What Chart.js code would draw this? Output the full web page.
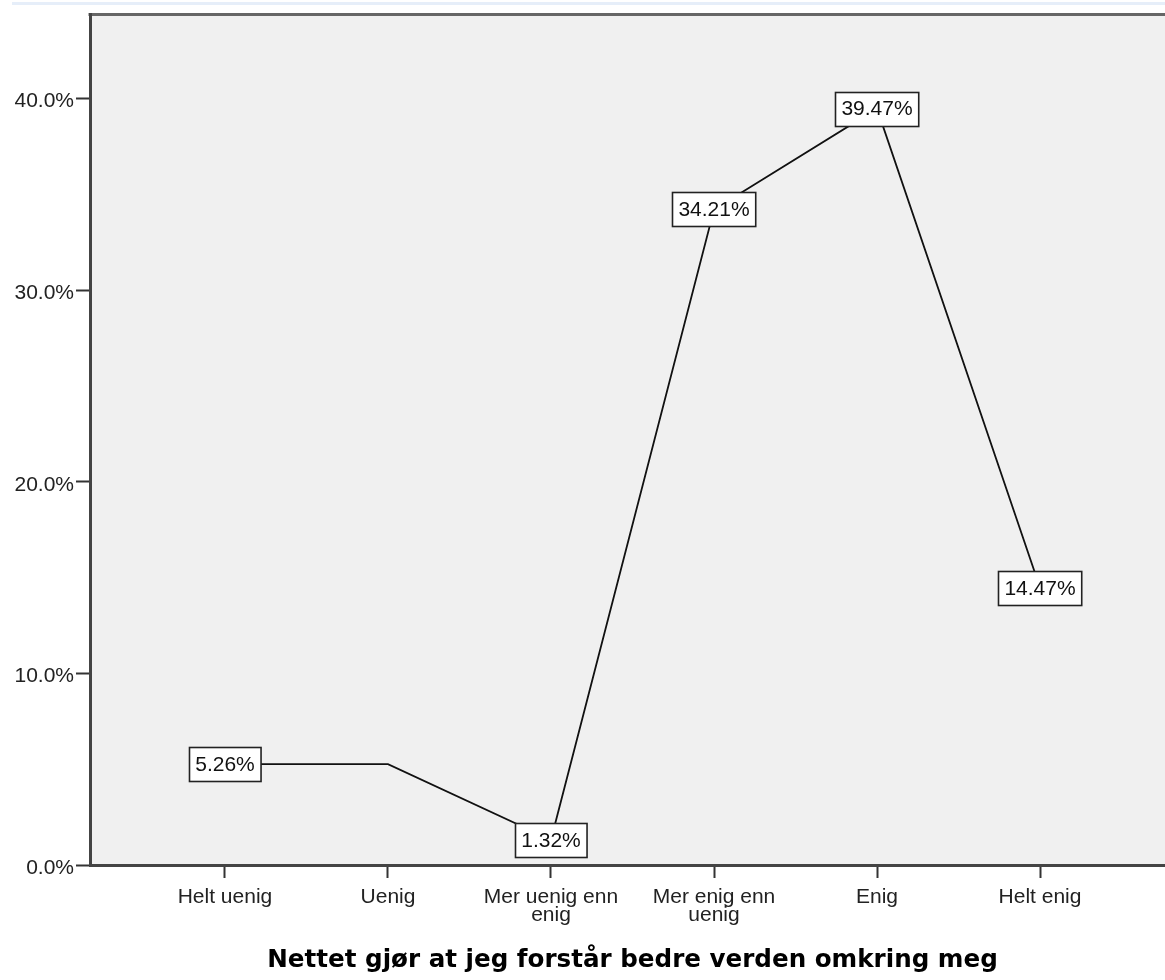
<!DOCTYPE html>
<html>
<head>
<meta charset="utf-8">
<script src="https://cdn.jsdelivr.net/npm/chart.js@4.4.1/dist/chart.umd.min.js"></script>
<style>
  html, body { margin: 0; padding: 0; background: #ffffff; overflow: hidden; }
  #wrap { width: 1180px; height: 980px; }
</style>
</head>
<body>
<div id="wrap"><canvas id="c" width="1180" height="980"></canvas></div>
<script>
// ---- data ----
const categories = [
  "Helt uenig",
  "Uenig",
  ["Mer uenig enn", "enig"],
  ["Mer enig enn", "uenig"],
  "Enig",
  "Helt enig"
];
const percentValues = [5.26, 5.26, 1.32, 34.21, 39.47, 14.47];
const labelShown = [true, false, true, true, true, true];
const yTickValues = [0, 10, 20, 30, 40];
const axisTitle = "Nettet gjør at jeg forstår bedre verden omkring meg";

const points = percentValues.map((v, i) => ({ x: i, y: v }));

const plotBackground = {
  id: 'plotBackground',
  beforeDraw(chart) {
    const { ctx, chartArea: a } = chart;
    ctx.save();
    ctx.fillStyle = '#e6eef9';
    ctx.fillRect(12, 2, chart.width - 12, 3);
    ctx.fillStyle = '#f0f0f0';
    ctx.fillRect(a.left, a.top, a.right - a.left, a.bottom - a.top);
    ctx.strokeStyle = '#666666';
    ctx.lineWidth = 3;
    ctx.beginPath();
    ctx.moveTo(a.left - 1.5, a.top);
    ctx.lineTo(a.right, a.top);
    ctx.stroke();
    ctx.restore();
  }
};

const boxedLabels = {
  id: 'boxedLabels',
  afterDatasetsDraw(chart) {
    const { ctx } = chart;
    const meta = chart.getDatasetMeta(0);
    ctx.save();
    ctx.font = '21px "Liberation Sans", Arial, sans-serif';
    ctx.textAlign = 'center';
    ctx.textBaseline = 'middle';
    meta.data.forEach((el, i) => {
      if (!labelShown[i]) return;
      const txt = percentValues[i].toFixed(2) + '%';
      const w = ctx.measureText(txt).width + 12;
      const h = 34;
      const x = Math.round(el.x - w / 2) + 0.5;
      const y = Math.round(el.y - h / 2) + 0.5;
      ctx.fillStyle = '#ffffff';
      ctx.fillRect(x, y, w, h);
      ctx.strokeStyle = '#222222';
      ctx.lineWidth = 1.6;
      ctx.strokeRect(x, y, w, h);
      ctx.fillStyle = '#111111';
      ctx.fillText(txt, el.x, el.y + 1);
    });
    ctx.restore();
  }
};

new Chart(document.getElementById('c'), {
  type: 'line',
  data: {
    datasets: [{
      data: points,
      borderColor: '#111111',
      borderWidth: 1.8,
      pointRadius: 0,
      pointHoverRadius: 0,
      tension: 0,
      fill: false
    }]
  },
  options: {
    responsive: false,
    animation: false,
    layout: { padding: { top: 14, left: 0, right: 5, bottom: 0 } },
    plugins: {
      legend: { display: false },
      tooltip: { enabled: false },
      title: { display: false }
    },
    scales: {
      x: {
        type: 'linear',
        min: -0.828,
        max: 5.828,
        afterFit(scale) { scale.height = 115; },
        afterBuildTicks(scale) {
          scale.ticks = categories.map((_, i) => ({ value: i }));
        },
        grid: {
          drawOnChartArea: false,
          drawTicks: true,
          tickLength: 13,
          tickWidth: 2,
          tickColor: '#333333'
        },
        border: { display: true, color: '#444444', width: 3 },
        ticks: {
          autoSkip: false,
          maxRotation: 0,
          padding: 10,
          color: '#222222',
          font: { family: '"Liberation Sans", Arial, sans-serif', size: 21, lineHeight: '18px' },
          callback: (v) => categories[v]
        },
        title: {
          display: true,
          text: axisTitle,
          color: '#000000',
          font: { family: '"DejaVu Sans", Verdana, sans-serif', size: 24.6, weight: 'bold' },
          padding: { top: 0, bottom: 5 }
        }
      },
      y: {
        min: 0,
        max: 44.38,
        afterFit(scale) { scale.width = 90; },
        afterBuildTicks(scale) {
          scale.ticks = yTickValues.map(v => ({ value: v }));
        },
        grid: {
          drawOnChartArea: false,
          drawTicks: true,
          tickLength: 14,
          tickWidth: 2,
          tickColor: '#333333'
        },
        border: { display: true, color: '#444444', width: 3 },
        ticks: {
          padding: 2,
          labelOffset: 3,
          color: '#222222',
          font: { family: '"Liberation Sans", Arial, sans-serif', size: 21 },
          callback: (v) => v.toFixed(1) + '%'
        }
      }
    }
  },
  plugins: [plotBackground, boxedLabels]
});
</script>
</body>
</html>
